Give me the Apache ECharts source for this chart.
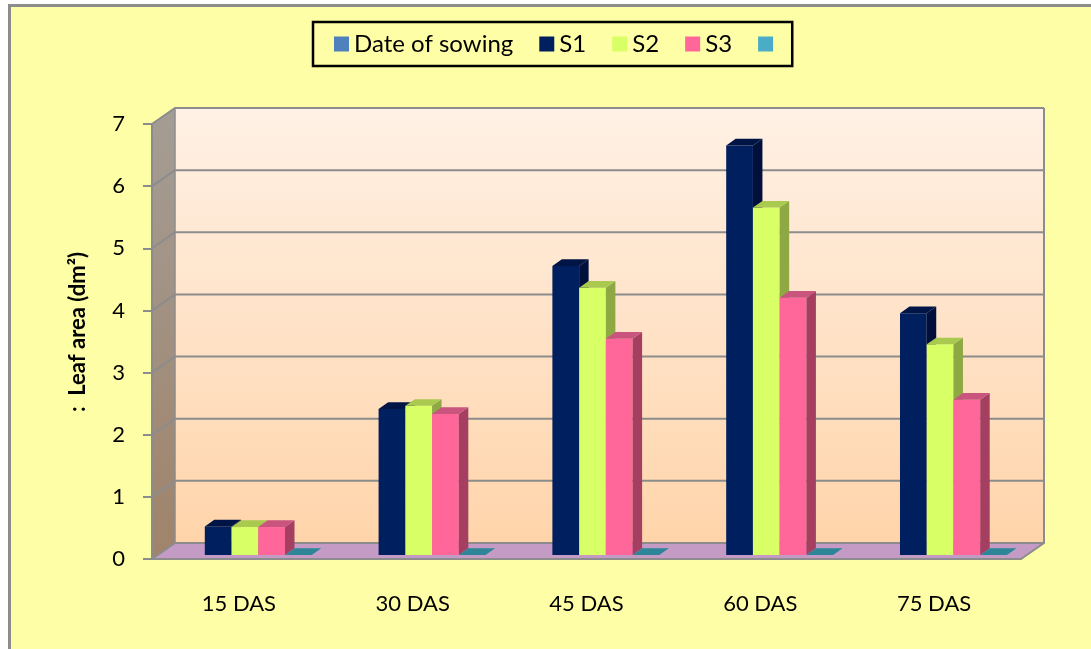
<!DOCTYPE html>
<html>
<head>
<meta charset="utf-8">
<script src="https://cdn.jsdelivr.net/npm/echarts@6/dist/echarts.min.js"></script>
<style>
html, body { margin: 0; padding: 0; background: #fff; overflow: hidden; }
#paper { position: absolute; left: 8px; top: 4px; width: 1200px; height: 800px; background: #FEFEA6; border: 3px solid #8C8C8C; }
#main { position: absolute; left: 0; top: 0; width: 1091px; height: 649px; }
</style>
</head>
<body>
<div id="paper"></div>
<div id="main"></div>
<script>
// data
var categories = ['15 DAS', '30 DAS', '45 DAS', '60 DAS', '75 DAS'];
var sowing = [null, null, null, null, null];
var s1 = [0.46, 2.35, 4.65, 6.59, 3.89];
var s2 = [0.45, 2.40, 4.30, 5.59, 3.39];
var s3 = [0.45, 2.27, 3.48, 4.14, 2.50];
var s4 = [0, 0, 0, 0, 0];
var yTicks = [0, 1, 2, 3, 4, 5, 6, 7];

var chart = echarts.init(document.getElementById('main'));

// fake 3d offsets
var WX = 23, WY = -16;      // back wall
var FX = 6, FY = -4;        // bar front face
var DX = 9.5, DY = -6.7;    // bar depth
var GRID_COLOR = '#8C8C8C';
var FONT = 'Lato, "Noto Sans", sans-serif';

function toData(arr) {
    return arr.map(function (v, i) { return [i, v]; });
}

// walls + floor + grid lines
function wallItem(params, api) {
    var cs = params.coordSys;
    var L = cs.x, R = cs.x + cs.width;
    var y0 = api.coord([0, yTicks[0]])[1];
    var yTop = api.coord([0, yTicks[yTicks.length - 1]])[1];
    var kids = [];
    kids.push({
        type: 'polygon',
        shape: { points: [[L + WX, yTop + WY], [R + WX, yTop + WY], [R + WX, y0 + WY], [L + WX, y0 + WY]] },
        style: { fill: { type: 'linear', x: 0, y: 0, x2: 0, y2: 1,
            colorStops: [{ offset: 0, color: '#FFF1E5' }, { offset: 1, color: '#FFD4AA' }] } }
    });
    kids.push({
        type: 'polygon',
        shape: { points: [[L, yTop], [L + WX, yTop + WY], [L + WX, y0 + WY], [L, y0]] },
        style: { fill: { type: 'linear', x: 0, y: 0, x2: 0, y2: 1,
            colorStops: [{ offset: 0, color: '#A49D95' }, { offset: 1, color: '#A0836A' }] } }
    });
    kids.push({
        type: 'polygon',
        shape: { points: [[L, y0], [L + WX, y0 + WY], [R + WX, y0 + WY], [R, y0]] },
        style: { fill: '#C39BC5' }
    });
    yTicks.forEach(function (t) {
        var yv = api.coord([0, t])[1];
        kids.push({
            type: 'polyline',
            shape: { points: [[L, yv], [L + WX, yv + WY], [R + WX, yv + WY]] },
            style: { stroke: GRID_COLOR, lineWidth: 2, fill: null }
        });
    });
    kids.push({
        type: 'polyline',
        shape: { points: [[R + WX, yTop + WY], [R + WX, y0 + WY], [R, y0]] },
        style: { stroke: GRID_COLOR, lineWidth: 2, fill: null }
    });
    kids.push({
        type: 'line',
        shape: { x1: L + WX, y1: yTop + WY, x2: L + WX, y2: y0 + WY },
        style: { stroke: GRID_COLOR, lineWidth: 1.5 }
    });
    return { type: 'group', children: kids };
}

function barItem(slot, front, top, side) {
    return function (params, api) {
        var v = api.value(1);
        if (v == null || isNaN(v)) return;
        var cw = api.size([1, 0])[0];
        var w = cw / 6.5;
        var c = api.coord([api.value(0), 0]);
        var x0 = c[0] - cw / 2 + 0.75 * w + slot * w + FX;
        var x1 = x0 + w;
        var yb = c[1] + FY;
        var yt = api.coord([api.value(0), v])[1] + FY;
        var kids = [];
        if (yb - yt > 0.5) {
            kids.push({ type: 'rect', shape: { x: x0, y: yt, width: w, height: yb - yt }, style: { fill: front } });
            kids.push({ type: 'polygon', shape: { points: [[x1, yb], [x1, yt], [x1 + DX, yt + DY], [x1 + DX, yb + DY]] }, style: { fill: side } });
        }
        kids.push({ type: 'polygon', shape: { points: [[x0, yt], [x1, yt], [x1 + DX, yt + DY], [x0 + DX, yt + DY]] }, style: { fill: top } });
        return { type: 'group', children: kids };
    };
}

var option = {
    animation: false,
    textStyle: { fontFamily: FONT, color: '#000' },
    legend: {
        data: ['Date of sowing', 'S1', 'S2', 'S3', ' '],
        left: 313,
        top: 22,
        padding: [10, 8, 10, 21],
        itemGap: 26,
        itemWidth: 15,
        itemHeight: 15,
        icon: 'rect',
        borderColor: '#000',
        borderWidth: 2.5,
        backgroundColor: '#FEFEA6',
        textStyle: { fontSize: 24, color: '#000', fontFamily: FONT }
    },
    grid: { left: 152, right: 70, top: 124, bottom: 90 },
    xAxis: {
        type: 'category',
        data: categories,
        z: 5,
        axisLine: { lineStyle: { color: GRID_COLOR, width: 2 } },
        axisTick: { length: 8, lineStyle: { color: GRID_COLOR, width: 2 } },
        axisLabel: { fontSize: 22, color: '#000', margin: 34 },
        splitLine: { show: false }
    },
    yAxis: {
        type: 'value',
        min: 0,
        max: 7,
        interval: 1,
        z: 5,
        name: ':  Leaf area (dm²)',
        nameLocation: 'middle',
        nameGap: 63,
        nameTextStyle: { fontSize: 22, fontWeight: 'bold', color: '#000', padding: [0, 0, 0, 19] },
        axisLine: { show: true, lineStyle: { color: GRID_COLOR, width: 2 } },
        axisTick: { show: true, length: 9, lineStyle: { color: GRID_COLOR, width: 2 } },
        axisLabel: { fontSize: 22, color: '#000', margin: 27 },
        splitLine: { show: false }
    },
    series: [
        { type: 'custom', name: 'wall', silent: true, z: 1, renderItem: wallItem, data: [[0, 0]] },
        { type: 'custom', name: 'Date of sowing', z: 2, itemStyle: { color: '#4F81BD' },
          renderItem: barItem(0, '#4F81BD', '#3D6591', '#34557B'), data: toData(sowing) },
        { type: 'custom', name: 'S1', z: 2, itemStyle: { color: '#001F5F' },
          renderItem: barItem(1, '#001F5F', '#001546', '#00103A'), data: toData(s1) },
        { type: 'custom', name: 'S2', z: 2, itemStyle: { color: '#D9FF66' },
          renderItem: barItem(2, '#D9FF66', '#A9C94F', '#8EA843'), data: toData(s2) },
        { type: 'custom', name: 'S3', z: 2, itemStyle: { color: '#FF6699' },
          renderItem: barItem(3, '#FF6699', '#C9557E', '#A43F62'), data: toData(s3) },
        { type: 'custom', name: ' ', z: 2, itemStyle: { color: '#4BACC6' },
          renderItem: barItem(4, '#4BACC6', '#2D8597', '#256E7D'), data: toData(s4) }
    ]
};

chart.setOption(option);
</script>
</body>
</html>
